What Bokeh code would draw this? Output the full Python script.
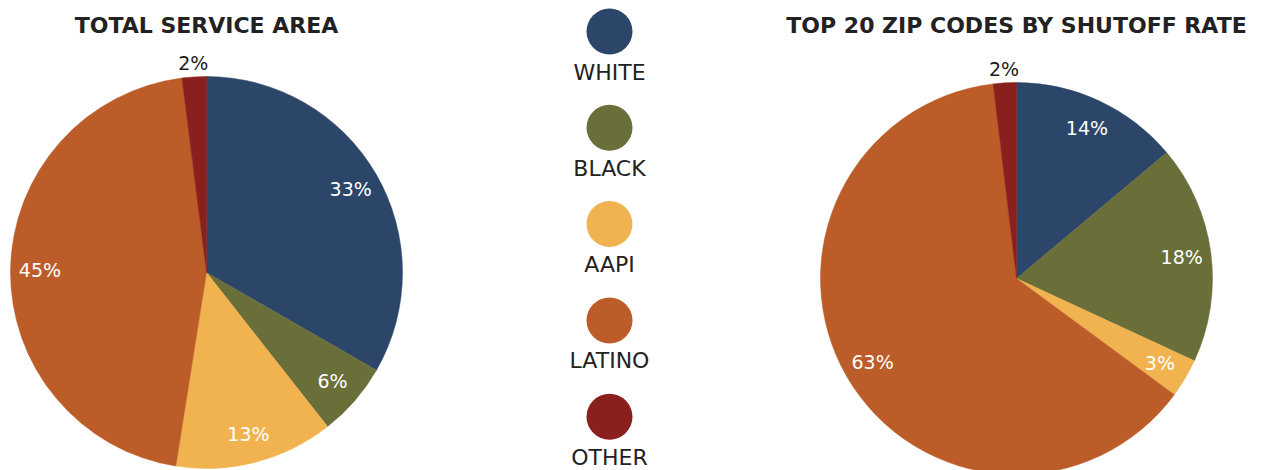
import math
from bokeh.plotting import figure
from bokeh.models import Range1d, ColumnDataSource
from bokeh.core.properties import value
from bokeh.embed import file_html
from bokeh.resources import INLINE

# ---- data ----
categories = ["WHITE", "BLACK", "AAPI", "LATINO", "OTHER"]
colors = ["#2c4669", "#6a6f3a", "#f0b34f", "#bc5c28", "#8a201d"]
service_area = [33.3, 6.1, 13.1, 45.5, 2.0]
service_labels = ["33%", "6%", "13%", "45%", "2%"]
top20 = [13.9, 18.0, 3.2, 63.0, 1.9]
top20_labels = ["14%", "18%", "3%", "63%", "2%"]
titles = ["TOTAL SERVICE AREA", "TOP 20 ZIP CODES BY SHUTOFF RATE"]

FONT = "DejaVu Sans"
W, H = 1264, 470
OX, OY = 0, 0  # page offset of the figure's top-left corner


def Y(py):
    return H - (py - OY)


p = figure(width=W, height=H, output_backend="svg", toolbar_location=None,
           x_range=Range1d(OX, OX + W), y_range=Range1d(0, H),
           x_axis_location=None, y_axis_location=None, min_border=0)
p.outline_line_color = None
p.grid.visible = False
p.background_fill_color = "white"


def pie(cx, cy, r, vals, labels, title):
    total = float(sum(vals))
    cum = 0.0
    starts, ends, lx, ly, lc, txt = [], [], [], [], [], []
    for v, lab in zip(vals, labels):
        a0 = math.pi / 2 - 2 * math.pi * cum / total
        cum += v
        a1 = math.pi / 2 - 2 * math.pi * cum / total
        starts.append(a1)
        ends.append(a0)
        mid = (a0 + a1) / 2
        small = v / total < 0.025
        rr = r * (1.07 if small else 0.85)
        lx.append(cx + rr * math.cos(mid))
        ly.append(Y(cy) + rr * math.sin(mid))
        lc.append("#1a1a1a" if small else "white")
        txt.append(lab)
    src = ColumnDataSource(dict(x=[cx] * len(vals), y=[Y(cy)] * len(vals),
                                s=starts, e=ends, c=colors))
    p.wedge(x="x", y="y", radius=r, start_angle="s", end_angle="e",
            fill_color="c", line_color="c", line_width=0.5, source=src)
    p.text(x=lx, y=ly, text=txt, text_color=lc, text_align="center",
           text_baseline="middle", text_font=value(FONT),
           text_font_size=value("19px"))
    p.text(x=[cx], y=[Y(25)], text=[title], text_color="#222222",
           text_align="center", text_baseline="middle",
           text_font=value(FONT), text_font_style="bold",
           text_font_size=value("22px"))


pie(206, 272, 196, service_area, service_labels, titles[0])
pie(1016, 278, 196, top20, top20_labels, titles[1])

# legend in the middle
lgx = [609] * len(categories)
lgy = [Y(31 + 96.3 * i) for i in range(len(categories))]
lty = [Y(71.5 + 96.3 * i) for i in range(len(categories))]
p.circle(x=lgx, y=lgy, radius=23, fill_color=colors, line_color=None)
p.text(x=lgx, y=lty, text=categories, text_color="#222222",
       text_align="center", text_baseline="middle", text_font=value(FONT),
       text_font_size=value("22px"))

open("out.html", "w").write(file_html(p, INLINE))
